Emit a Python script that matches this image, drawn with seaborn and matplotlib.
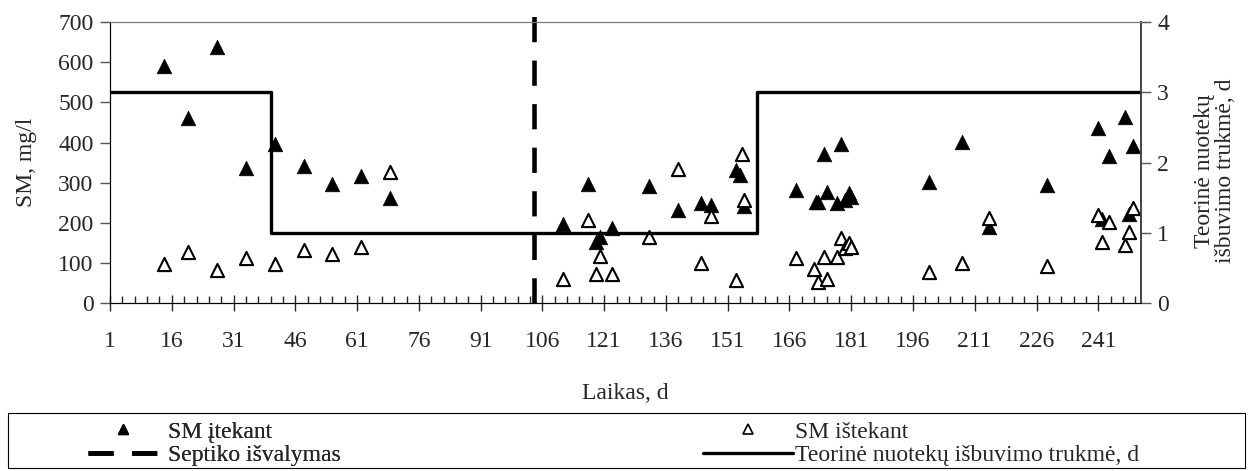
import numpy as np
import pandas as pd
import matplotlib
matplotlib.use("Agg")
import matplotlib.pyplot as plt
from matplotlib.ticker import MultipleLocator, FixedLocator
from matplotlib.lines import Line2D
from matplotlib.patches import Rectangle
import seaborn as sns

# SM inflow (filled triangles)
days_in = [14, 20, 27, 34, 41, 48, 55, 62, 69,
           111, 117, 119, 120, 123, 132, 139, 144.5, 147, 153, 154, 155,
           167.5, 172.5, 173, 174.5, 175, 177.5, 178.5, 179.5, 180.5, 181,
           200, 208, 214.5, 228.5, 241, 242, 243.5, 247.5, 248.5, 249.5]
sm_in = [590, 460, 638, 337, 396, 341, 296, 317, 261,
         198, 296, 152, 165, 188, 292, 233, 248, 244, 331, 319, 242,
         281, 252, 252, 371, 277, 248, 396, 257, 273, 265,
         302, 402, 190, 294, 435, 210, 366, 463, 223, 391]

# SM outflow (open triangles)
days_out = [14, 20, 27, 34, 41, 48, 55, 62, 69,
            111, 117, 119, 120, 123, 132, 139, 144.5, 147, 153, 154.5, 155,
            167.5, 172, 173, 174.5, 175, 177.5, 178.5, 179.5, 180.5, 181,
            200, 208, 214.5, 228.5, 241, 242, 243.5, 247.5, 248.5, 249.5]
sm_out = [97, 128, 82, 113, 97, 132, 122, 139, 326,
          61, 207, 72, 117, 72, 164, 333, 99, 217, 57, 371, 257,
          111, 84, 53, 115, 59, 115, 161, 136, 149, 140,
          78, 99, 213, 93, 219, 153, 203, 145, 178, 236]

# theoretical retention time (right axis), step changes
step_days = [1, 40, 158, 251.3]
step_vals = [3, 1, 3, 3]

septic_day = 104

x_ticks = list(range(1, 242, 15))

FS = 17

sns.set_style("ticks")
plt.rcParams["font.family"] = ["Liberation Serif", "DejaVu Serif"]
plt.rcParams["font.size"] = FS

fig = plt.figure(figsize=(12.52, 4.71), dpi=100)
ax = fig.add_axes([0.0879, 0.3567, 0.8232, 0.5963])
ax2 = ax.twinx()

sns.scatterplot(x=days_in, y=sm_in, marker="^", s=110, color="black",
                edgecolor="black", linewidth=0.5, ax=ax, zorder=3)
sns.scatterplot(x=days_out, y=sm_out, marker="^", s=90, facecolor="white",
                edgecolor="black", linewidth=1.5, ax=ax, zorder=3)

ax.axvline(septic_day, ymin=0, ymax=1.025, color="black", lw=3.3,
           dashes=(5.5, 4), clip_on=False, zorder=4)

sns.lineplot(x=step_days, y=step_vals, drawstyle="steps-post", color="black",
             lw=2.4, ax=ax2, sort=False)

ax.set_xlim(1, 251.3)
ax.set_ylim(0, 700)
ax2.set_ylim(0, 4)
ax.xaxis.set_major_locator(FixedLocator(x_ticks))
ax.xaxis.set_minor_locator(MultipleLocator(3, offset=1))
ax.set_xticks(x_ticks)
ax.set_xticklabels([str(t) for t in x_ticks])
ax.yaxis.set_major_locator(MultipleLocator(100))
ax2.yaxis.set_major_locator(MultipleLocator(1))

ax.tick_params(axis="x", which="major", direction="inout", length=11, width=1,
               labelsize=FS, pad=15)
ax.tick_params(axis="x", which="minor", direction="in", length=5, width=1)
ax.tick_params(axis="y", direction="out", length=7, width=1, labelsize=FS,
               color="#555555", pad=5)
ax2.tick_params(axis="y", direction="out", length=7, width=1, labelsize=FS,
                color="#555555", pad=5)

for a in (ax, ax2):
    a.spines["top"].set_visible(True)
    a.spines["top"].set_color("#777777")
    a.spines["top"].set_linewidth(0.8)
    a.spines["left"].set_color("black")
    a.spines["bottom"].set_color("black")
    a.spines["right"].set_color("#444444")
    a.spines["right"].set_linewidth(1.2)

ax.set_ylabel("SM, mg/l", fontsize=FS)
ax.yaxis.set_label_coords(-0.071, 0.5)
ax.set_xlabel("Laikas, d", fontsize=FS)
ax.xaxis.set_label_coords(0.5, -0.285)
ax2.set_ylabel("Teorinė nuotekų\nišbuvimo trukmė, d", fontsize=FS,
               linespacing=1.0)
ax2.yaxis.set_label_coords(1.052, 0.47)

# legend: two columns drawn as two frameless legends inside one box
h_in = Line2D([], [], ls="", marker="^", ms=7.5, color="black")
h_sep = Line2D([], [], color="black", lw=3.3, dashes=(5.5, 4))
h_out = Line2D([], [], ls="", marker="^", ms=7.5, markerfacecolor="white",
               markeredgecolor="black", markeredgewidth=1.2)
h_th = Line2D([], [], color="black", lw=2.4)

leg1 = fig.legend([h_in, h_sep], ["SM įtekant", "Septiko išvalymas"],
                  loc="upper left", bbox_to_anchor=(88 / 1252, 1 - 421 / 471),
                  fontsize=FS, frameon=False, handlelength=3.0,
                  handletextpad=0.4, labelspacing=0.08, borderpad=0,
                  borderaxespad=0)
leg2 = fig.legend([h_out, h_th], ["SM ištekant",
                                  "Teorinė nuotekų išbuvimo trukmė, d"],
                  loc="upper left", bbox_to_anchor=(703 / 1252, 1 - 421 / 471),
                  fontsize=FS, frameon=False, handlelength=3.8,
                  handletextpad=0.08, labelspacing=0.08, borderpad=0,
                  borderaxespad=0)
fig.add_artist(leg1)
fig.patches.append(Rectangle((8 / 1252, 3 / 471), 1237 / 1252, 55 / 471,
                             transform=fig.transFigure, fill=False,
                             edgecolor="black", linewidth=0.8))

fig.savefig("out.png", dpi=100)
